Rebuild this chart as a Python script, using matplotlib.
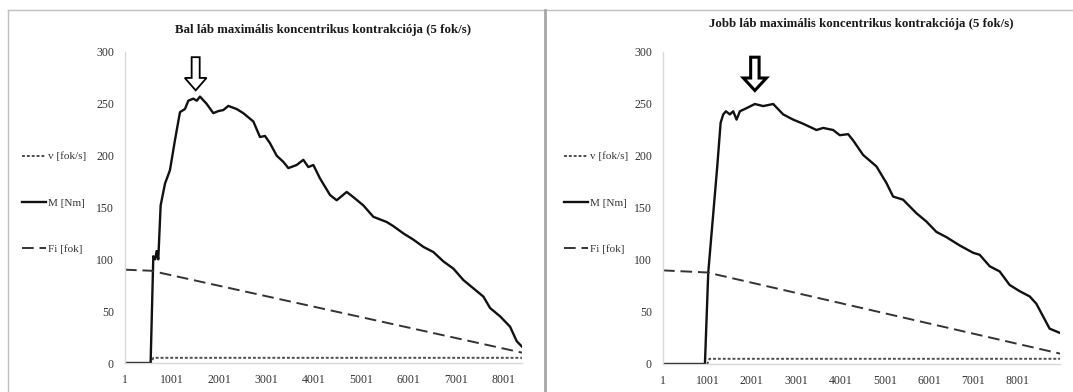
import matplotlib
matplotlib.use("Agg")
import matplotlib.pyplot as plt
from matplotlib.lines import Line2D
from matplotlib.patches import FancyArrow

plt.rcParams['font.family'] = ['Liberation Serif', 'DejaVu Serif']

# sample index / value pairs read along each recording
BAL_M_X = [1, 543, 600, 640, 670, 705, 755, 847, 952, 1058, 1164, 1270, 1340, 1446, 1520, 1587,
           1728, 1869, 1975, 2081, 2187, 2363, 2504, 2716, 2857, 2963, 3069, 3210, 3351, 3457,
           3633, 3774, 3880, 3986, 4127, 4339, 4480, 4691, 4832, 5044, 5256, 5538, 5679, 5891,
           6102, 6314, 6526, 6737, 6949, 7160, 7372, 7584, 7725, 7937, 8148, 8289, 8395]
BAL_M_Y = [0, 0, 103, 100, 108, 100, 152, 173, 186, 215, 242, 245, 253, 255, 253, 257,
           250, 241, 243, 244, 248, 245, 241, 233, 218, 219, 212, 200, 194, 188,
           191, 196, 189, 191, 178, 162, 157, 165, 160, 152, 141, 136, 132, 125,
           119, 112, 107, 98, 91, 80, 72, 64, 53, 45, 35, 21, 16]
BAL_FI_X = [1, 550, 8400]
BAL_FI_Y = [90, 89, 10]
BAL_V_X = [1, 550, 600, 8400]
BAL_V_Y = [0, 0, 5, 5]

JOBB_M_X = [1, 946, 1021, 1224, 1300, 1359, 1419, 1509, 1584, 1659, 1734, 1884, 2072, 2260,
            2485, 2710, 2935, 3161, 3461, 3611, 3836, 3986, 4174, 4287, 4512, 4812, 5038,
            5188, 5413, 5713, 5938, 6164, 6389, 6689, 6989, 7140, 7365, 7590, 7815, 8041,
            8266, 8416, 8566, 8716, 8941]
JOBB_M_Y = [0, 0, 88, 190, 232, 240, 243, 240, 243, 235, 243, 246, 250, 248,
            250, 240, 235, 231, 225, 227, 225, 220, 221, 215, 201, 190, 174,
            161, 158, 145, 137, 127, 122, 114, 107, 105, 94, 89, 76, 70,
            65, 58, 46, 34, 30]
JOBB_FI_X = [1, 1000, 8950]
JOBB_FI_Y = [90, 88, 10]
JOBB_V_X = [1, 1000, 1050, 8950]
JOBB_V_Y = [0, 0, 5, 5]

X_TICKS = [1, 1001, 2001, 3001, 4001, 5001, 6001, 7001, 8001]
Y_TICKS = [0, 50, 100, 150, 200, 250, 300]

W, H = 1073, 392


def fig_rect(left, right, top, bottom):
    return [left / W, 1 - bottom / H, (right - left) / W, (bottom - top) / H]


def draw_panel(fig, rect, title, title_y, mx, my, fx, fy, vx, vy, xmax,
               arrow_x, arrow_w, arrow_shaft, arrow_lw, legend_x):
    ax = fig.add_axes(rect)
    lv, = ax.plot(vx, vy, color='#4d4d4d', lw=1.4, dashes=(1.5, 1.0))
    lm, = ax.plot(mx, my, color='#111111', lw=1.7)
    lf, = ax.plot(fx, fy, color='#333333', lw=1.4, dashes=(6, 3))
    ax.set_xlim(1, xmax)
    ax.set_ylim(0, 300)
    ax.set_xticks(X_TICKS)
    ax.set_yticks(Y_TICKS)
    ax.tick_params(length=0, labelsize=8.5, colors='#333333', pad=8)
    ax.tick_params(axis='x', pad=8)
    for side in ('top', 'right'):
        ax.spines[side].set_visible(False)
    for side in ('left', 'bottom'):
        ax.spines[side].set_color('#d9d9d9')
        ax.spines[side].set_linewidth(1.0)

    # hollow marker arrow above the peak torque
    arrow = FancyArrow(arrow_x, 295, 0, -32, width=arrow_shaft, head_width=arrow_w,
                       head_length=12, length_includes_head=True,
                       facecolor='white', edgecolor='black', lw=arrow_lw, clip_on=False)
    ax.add_patch(arrow)

    fig.text((rect[0] + rect[2] / 2), 1 - title_y / H, title, ha='center', va='center',
             fontsize=9.3, fontweight='bold', color='#1a1a1a')

    ax.legend([lv, lm, lf], ['v [fok/s]', 'M [Nm]', 'Fi [fok]'],
              loc='center left', bbox_to_anchor=(legend_x / W, 1 - 203 / H),
              bbox_transform=fig.transFigure, frameon=False, fontsize=8,
              handlelength=2.2, handletextpad=0.2, labelspacing=3.3, borderpad=0,
              labelcolor='#333333')
    return ax


fig = plt.figure(figsize=(W / 100, H / 100), dpi=100)

draw_panel(fig, fig_rect(125, 522, 52, 363),
           'Bal láb maximális koncentrikus kontrakciója (5 fok/s)', 30,
           BAL_M_X, BAL_M_Y, BAL_FI_X, BAL_FI_Y, BAL_V_X, BAL_V_Y, 8400,
           1496, 460, 170, 1.3, 16)
draw_panel(fig, fig_rect(663, 1060, 52, 364),
           'Jobb láb maximális koncentrikus kontrakciója (5 fok/s)', 24,
           JOBB_M_X, JOBB_M_Y, JOBB_FI_X, JOBB_FI_Y, JOBB_V_X, JOBB_V_Y, 8950,
           2072, 520, 190, 2.2, 558)

# panel frames
fig.add_artist(Line2D([8 / W, 1], [1 - 10 / H, 1 - 10 / H], transform=fig.transFigure,
                      color='#bfbfbf', lw=1.0))
fig.add_artist(Line2D([8 / W, 8 / W], [0, 1 - 10 / H], transform=fig.transFigure,
                      color='#bfbfbf', lw=1.0))
fig.add_artist(Line2D([545 / W, 545 / W], [0, 1 - 10 / H], transform=fig.transFigure,
                      color='#a6a6a6', lw=2.0))

fig.savefig('out.png', dpi=100)
